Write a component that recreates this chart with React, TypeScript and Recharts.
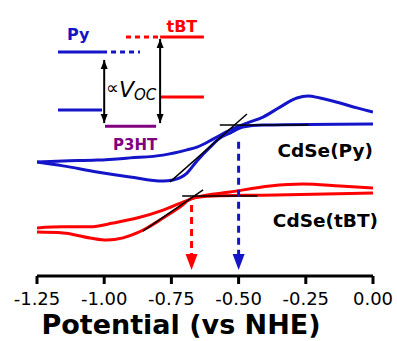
import React from "react"
import {
  ComposedChart,
  Line,
  XAxis,
  YAxis,
  ReferenceLine,
  ReferenceDot,
} from "recharts"

const BLUE = "#1414c8"
const RED = "#ff0000"
const PURPLE = "#800080"
const FONT = "'DejaVu Sans', Arial, sans-serif"

const xTicks = [-1.25, -1.0, -0.75, -0.5, -0.25, 0]

// CdSe(Py) – potentials (V vs NHE) and current (arb. units)
const pyFwdE = [-1.25, -1.153, -1.027, -0.904, -0.781, -0.744, -0.692, -0.655, -0.606, -0.569, -0.532, -0.484, -0.409, 0]
const pyFwdI = [41.3, 39.9, 37.7, 35.9, 34.4, 34.8, 37.3, 41.7, 46.7, 50.0, 51.8, 54.0, 54.7, 55.1]
const pyRevE = [-1.25, -1.153, -1.027, -0.904, -0.781, -0.692, -0.655, -0.595, -0.532, -0.469, -0.409, -0.346, -0.283, -0.242, -0.197, -0.123, -0.06, 0]
const pyRevI = [41.3, 41.7, 42.0, 42.8, 43.8, 45.7, 46.7, 49.6, 52.9, 55.4, 57.6, 61.2, 64.5, 65.2, 64.5, 62.7, 60.9, 59.4]

// CdSe(tBT)
const tbtFwdE = [-1.25, -1.153, -1.053, -0.99, -0.93, -0.878, -0.841, -0.781, -0.718, -0.67, -0.595, -0.409, 0]
const tbtFwdI = [15.9, 15.6, 13.8, 13.0, 13.8, 15.6, 17.4, 21.0, 25.0, 28.3, 29.0, 29.3, 30.1]
const tbtRevE = [-1.25, -1.153, -1.053, -0.967, -0.878, -0.781, -0.707, -0.655, -0.532, -0.383, -0.26, -0.123, 0]
const tbtRevI = [17.4, 17.8, 17.8, 19.2, 21.0, 23.9, 26.8, 28.6, 30.4, 32.6, 33.3, 32.6, 31.9]

// onset tangents
const pyTangentE = [-0.755, -0.469]
const pyTangentI = [34.1, 58.7]
const pyBaseE = [-0.57, -0.24]
const pyBaseI = 54.7
const tbtTangentE = [-0.856, -0.632]
const tbtTangentI = [16.3, 31.2]
const tbtBaseE = [-0.71, -0.43]
const tbtBaseI = 29.0

// onset potentials
const onsetE = [-0.675, -0.5]
const onsetI = [25.7, 48.6]
const onsetColors = [RED, BLUE]

// energy level inset (drawn in the plot's own units)
const insetLevels = [
  { e: [-1.172, -1.008], i: 81.2, color: BLUE, dash: "" },
  { e: [-1.008, -0.867], i: 81.2, color: BLUE, dash: "5 4" },
  { e: [-1.172, -1.008], i: 60.1, color: BLUE, dash: "" },
  { e: [-0.919, -0.792], i: 86.6, color: RED, dash: "5 4" },
  { e: [-0.792, -0.629], i: 86.6, color: RED, dash: "" },
  { e: [-0.792, -0.629], i: 64.9, color: RED, dash: "" },
  { e: [-0.997, -0.807], i: 54.3, color: PURPLE, dash: "" },
]
const insetArrows = [
  { e: -1.0, top: 78.3, bottom: 55.4 },
  { e: -0.792, top: 85.9, bottom: 55.4 },
]

const zip = (es: number[], is: number[]) => es.map((E, k) => ({ E, i: is[k] }))

const pyFwd = zip(pyFwdE, pyFwdI)
const pyRev = zip(pyRevE, pyRevI)
const tbtFwd = zip(tbtFwdE, tbtFwdI)
const tbtRev = zip(tbtRevE, tbtRevI)

const label = (txt: string, color: string, size: number, anchor: string, dx = 0) => (p: any) => (
  <text
    x={p.cx + dx}
    y={p.cy}
    fill={color}
    fontFamily={FONT}
    fontWeight="bold"
    fontSize={size}
    textAnchor={anchor}
  >
    {txt}
  </text>
)

const headDown = (w: number, h: number, color: string) => (p: any) => (
  <polygon
    points={`${p.cx - w / 2},${p.cy - h} ${p.cx + w / 2},${p.cy - h} ${p.cx},${p.cy}`}
    fill={color}
  />
)
const headUp = (w: number, h: number, color: string) => (p: any) => (
  <polygon
    points={`${p.cx - w / 2},${p.cy + h} ${p.cx + w / 2},${p.cy + h} ${p.cx},${p.cy}`}
    fill={color}
  />
)

const vocLabel = (p: any) => (
  <text x={p.cx} y={p.cy} fill="#000" fontFamily={FONT}>
    <tspan fontSize={18} dy={-3}>∝</tspan>
    <tspan fontSize={22} fontStyle="italic" dy={3}>V</tspan>
    <tspan fontSize={15} fontStyle="italic" dy={3}>OC</tspan>
  </text>
)

export default function App() {
  return (
    <div style={{ position: "absolute", left: 0, top: 0, background: "#fff" }}>
      <ComposedChart
        width={397}
        height={341}
        margin={{ top: 0, right: 24, left: 37, bottom: 0 }}
      >
        <XAxis
          type="number"
          dataKey="E"
          domain={[-1.25, 0]}
          ticks={xTicks}
          allowDataOverflow
          tickFormatter={(v: number) => v.toFixed(2)}
          axisLine={{ stroke: "#000", strokeWidth: 3 }}
          tickLine={{ stroke: "#000", strokeWidth: 3 }}
          tickSize={8}
          tickMargin={8}
          height={65}
          tick={{ fill: "#000", fontSize: 18, fontFamily: FONT }}
          label={{
            value: "Potential (vs NHE)",
            position: "insideBottom",
            offset: 7,
            dx: -24,
            style: { fill: "#000", fontSize: 27, fontWeight: "bold", fontFamily: FONT },
          }}
        />
        <YAxis type="number" domain={[0, 100]} hide />

        <Line data={pyFwd} dataKey="i" type="monotone" stroke={BLUE} strokeWidth={3} dot={false} isAnimationActive={false} />
        <Line data={pyRev} dataKey="i" type="monotone" stroke={BLUE} strokeWidth={3} dot={false} isAnimationActive={false} />
        <Line data={tbtFwd} dataKey="i" type="monotone" stroke={RED} strokeWidth={3} dot={false} isAnimationActive={false} />
        <Line data={tbtRev} dataKey="i" type="monotone" stroke={RED} strokeWidth={3} dot={false} isAnimationActive={false} />

        <ReferenceLine segment={[{ x: pyTangentE[0], y: pyTangentI[0] }, { x: pyTangentE[1], y: pyTangentI[1] }]} stroke="#000" strokeWidth={1.5} ifOverflow="visible" />
        <ReferenceLine segment={[{ x: pyBaseE[0], y: pyBaseI }, { x: pyBaseE[1], y: pyBaseI }]} stroke="#000" strokeWidth={1.5} ifOverflow="visible" />
        <ReferenceLine segment={[{ x: tbtTangentE[0], y: tbtTangentI[0] }, { x: tbtTangentE[1], y: tbtTangentI[1] }]} stroke="#000" strokeWidth={1.5} ifOverflow="visible" />
        <ReferenceLine segment={[{ x: tbtBaseE[0], y: tbtBaseI }, { x: tbtBaseE[1], y: tbtBaseI }]} stroke="#000" strokeWidth={1.5} ifOverflow="visible" />

        {onsetE.map((e, k) => (
          <ReferenceLine
            key={"on" + k}
            segment={[{ x: e, y: onsetI[k] }, { x: e, y: 7.6 }]}
            stroke={onsetColors[k]}
            strokeWidth={3}
            strokeDasharray="7 5"
            ifOverflow="visible"
          />
        ))}
        {onsetE.map((e, k) => (
          <ReferenceDot key={"hd" + k} x={e} y={2.2} r={0} ifOverflow="visible" shape={headDown(12, 16, onsetColors[k])} />
        ))}

        {insetLevels.map((l, k) => (
          <ReferenceLine
            key={"lv" + k}
            segment={[{ x: l.e[0], y: l.i }, { x: l.e[1], y: l.i }]}
            stroke={l.color}
            strokeWidth={3}
            strokeDasharray={l.dash || undefined}
            ifOverflow="visible"
          />
        ))}
        {insetArrows.map((a, k) => (
          <ReferenceLine
            key={"ar" + k}
            segment={[{ x: a.e, y: a.top }, { x: a.e, y: a.bottom }]}
            stroke="#000"
            strokeWidth={2}
            ifOverflow="visible"
          />
        ))}
        {insetArrows.map((a, k) => (
          <ReferenceDot key={"au" + k} x={a.e} y={a.top} r={0} ifOverflow="visible" shape={headUp(7, 9, "#000")} />
        ))}
        {insetArrows.map((a, k) => (
          <ReferenceDot key={"ad" + k} x={a.e} y={a.bottom} r={0} ifOverflow="visible" shape={headDown(7, 9, "#000")} />
        ))}

        <ReferenceDot x={-1.097} y={85.5} r={0} ifOverflow="visible" shape={label("Py", BLUE, 16, "middle")} />
        <ReferenceDot x={-0.711} y={88.4} r={0} ifOverflow="visible" shape={label("tBT", RED, 16, "middle")} />
        <ReferenceDot x={-0.885} y={45.7} r={0} ifOverflow="visible" shape={label("P3HT", PURPLE, 15, "middle")} />
        <ReferenceDot x={-0.993} y={64.9} r={0} ifOverflow="visible" shape={vocLabel} />

        <ReferenceDot x={0} y={43.1} r={0} ifOverflow="visible" shape={label("CdSe(Py)", "#000", 18.5, "end")} />
        <ReferenceDot x={0} y={17.8} r={0} ifOverflow="visible" shape={label("CdSe(tBT)", "#000", 18.5, "end", 5)} />
      </ComposedChart>
    </div>
  )
}
